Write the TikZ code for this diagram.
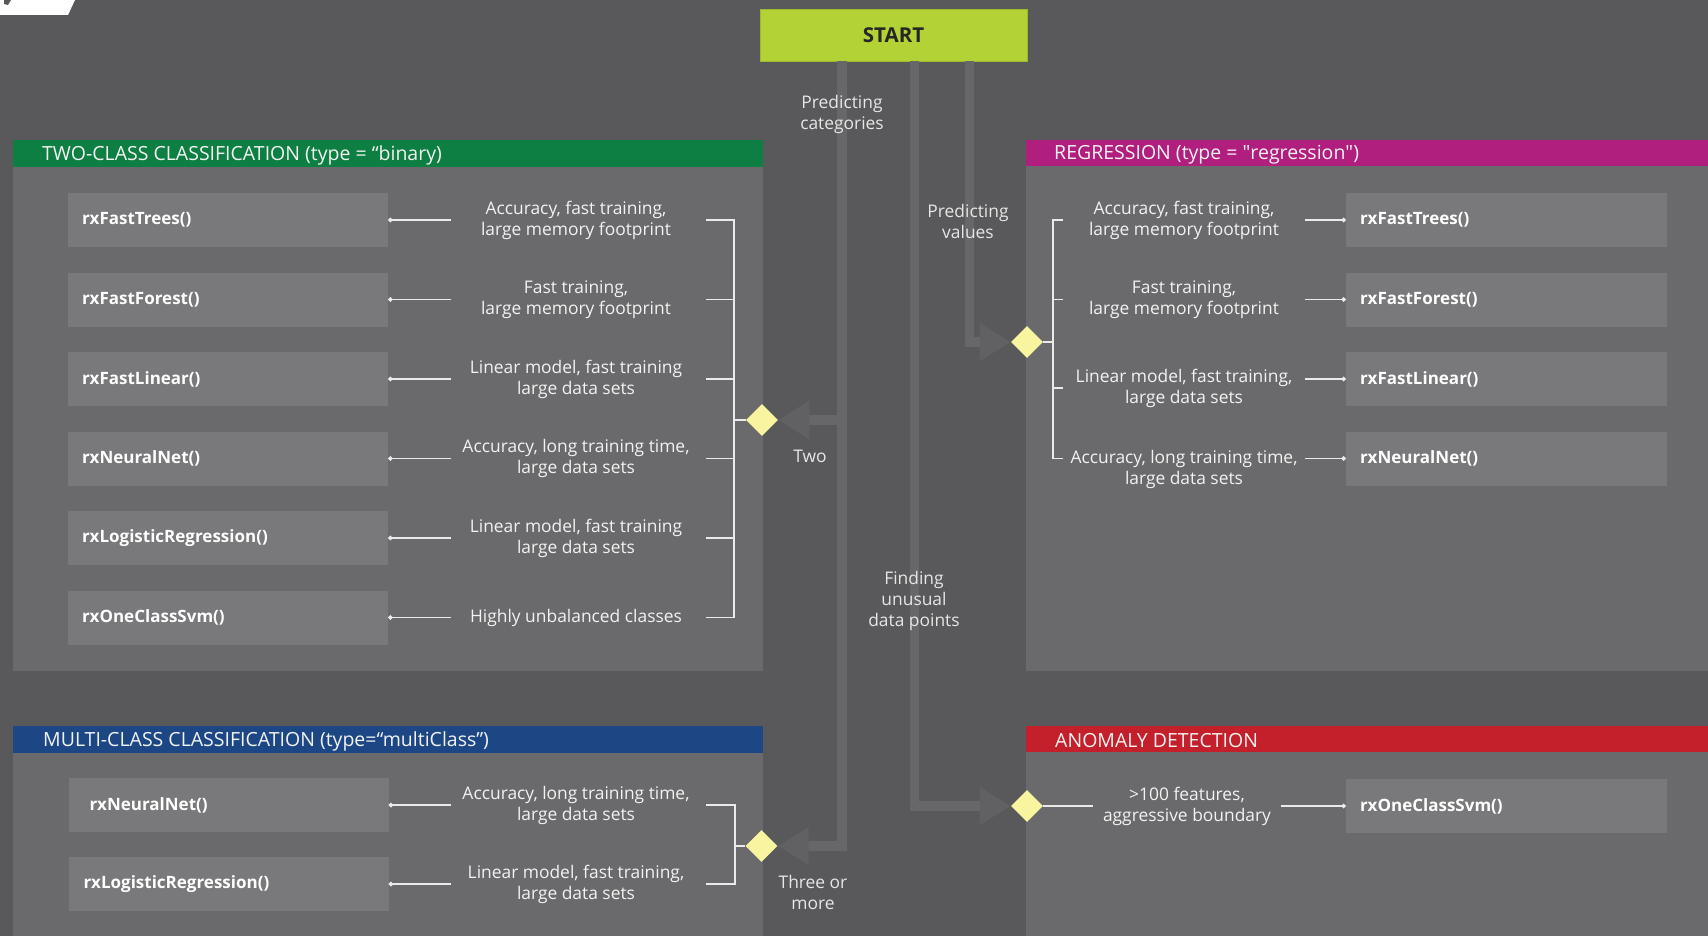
\documentclass[tikz,border=0pt]{standalone}
\usepackage{fontspec}
\setmainfont{Open Sans}
% same face without the TeX quote mapping, for straight quotes
\newfontfamily\plainq{Open Sans}
\usetikzlibrary{shapes.geometric,arrows.meta,calc}

\definecolor{bgc}{HTML}{59595B}
\definecolor{panelc}{HTML}{6A6A6C}
\definecolor{boxc}{HTML}{79797B}
\definecolor{pipec}{HTML}{676769}
\definecolor{arrowc}{HTML}{616163}
\definecolor{headgreen}{HTML}{0E7F43}
\definecolor{headmag}{HTML}{B11F7E}
\definecolor{headblue}{HTML}{1D4784}
\definecolor{headred}{HTML}{C4202B}
\definecolor{startc}{HTML}{B3D235}
\definecolor{startedge}{HTML}{9DBA2C}
\definecolor{diac}{HTML}{F8F4A0}
\definecolor{linec}{HTML}{EAEAEA}
\definecolor{txtc}{HTML}{F2F2F2}
\definecolor{lblc}{HTML}{E6E6E6}

\newcommand\dscfont{\fontsize{17.4}{21}\selectfont}
\newcommand\hdrfont{\fontsize{19.5}{23}\selectfont}
\newcommand\fnfont{\fontsize{17}{20}\selectfont\bfseries}
\newcommand\stfont{\fontsize{20.5}{24}\selectfont\bfseries}

\tikzset{
  hdr/.style={anchor=west, inner sep=0pt, font=\hdrfont, text=txtc},
  fnbox/.style={rectangle, fill=boxc, minimum height=54pt, text width=292pt,
    inner xsep=14pt, inner ysep=0pt, align=left, font=\fnfont, text=white},
  desc/.style={align=center, inner sep=0pt, font=\dscfont, text=txtc},
  lbl/.style={align=center, inner sep=0pt, font=\dscfont, text=lblc},
  conn/.style={draw=linec, line width=1.4pt, line join=miter},
  dotend/.style={-{Circle[length=4.5pt]}},
  dotstart/.style={{Circle[length=4.5pt]}-},
  choice/.style={diamond, fill=diac, minimum width=32pt, minimum height=32pt, inner sep=0pt},
  pipe/.style={draw=pipec, line width=9.5pt, line join=miter,
    -{Triangle[length=31pt, width=36pt, fill=arrowc, color=arrowc]}},
  startbox/.style={rectangle, fill=startc, draw=startedge, line width=0.8pt,
    minimum width=267pt, minimum height=52pt, font=\stfont, text=black!85}
}

\begin{document}
\begin{tikzpicture}[x=1pt,y=-1pt]
\useasboundingbox (0,0) rectangle (1708,936);
\fill[bgc] (0,0) rectangle (1708,936);

% tab in the upper left corner
\fill[white] (0,0) -- (75,0) -- (68,15) -- (0,15) -- cycle;
\fill[bgc] (4,0) -- (11,0) -- (8,5) -- (4,4) -- cycle;

% panels and their title bars
\fill[panelc] (13,167) rectangle (763,671);
\fill[headgreen] (13,140) rectangle (763,167);
\fill[panelc] (1026,166) rectangle (1708,671);
\fill[headmag] (1026,140) rectangle (1708,166);
\fill[panelc] (13,753) rectangle (763,936);
\fill[headblue] (13,726) rectangle (763,753);
\fill[panelc] (1026,752) rectangle (1708,936);
\fill[headred] (1026,726) rectangle (1708,752);

\node[hdr] (hTwo) at (42,155.5) {TWO-CLASS CLASSIFICATION (type = “binary)};
\node[hdr] (hReg) at (1054,155) {REGRESSION (type = {\plainq"}regression{\plainq"})};
\node[hdr] (hMul) at (43,741) {MULTI-CLASS CLASSIFICATION (type=“multiClass”)};
\node[hdr] (hAno) at (1055,740.5) {ANOMALY DETECTION};

% start
\node[startbox] (start) at (893.5,35) {START};

% decision points
\node[choice] (dTwo) at (762,420) {};
\node[choice] (dMul) at (761.5,846) {};
\node[choice] (dReg) at (1027,342) {};
\node[choice] (dAn)  at (1027,806) {};

% ---------- two-class ----------
\node[fnbox] (tb1) at (228,220)   {rxFastTrees()};
\node[fnbox] (tb2) at (228,299.5) {rxFastForest()};
\node[fnbox] (tb3) at (228,379)   {rxFastLinear()};
\node[fnbox] (tb4) at (228,458.5) {rxNeuralNet()};
\node[fnbox] (tb5) at (228,538)   {rxLogisticRegression()};
\node[fnbox] (tb6) at (228,617.5) {rxOneClassSvm()};

\node[desc, minimum width=250pt] (td1) at (576,220)   {Accuracy, fast training,\\large memory footprint};
\node[desc, minimum width=250pt] (td2) at (576,299.5) {Fast training,\\large memory footprint};
\node[desc, minimum width=250pt] (td3) at (576,379)   {Linear model, fast training\\large data sets};
\node[desc, minimum width=250pt] (td4) at (576,458.5) {Accuracy, long training time,\\large data sets};
\node[desc, minimum width=250pt] (td5) at (576,538)   {Linear model, fast training\\large data sets};
\node[desc, minimum width=250pt] (td6) at (576,617.5) {Highly unbalanced classes};

\foreach \i in {1,...,6}
  \draw[conn, dotstart] (tb\i.east) -- (td\i.west);
\coordinate (bxTwo) at (734,0);
\draw[conn] ([xshift=5pt]td1.east) -- (td1.east -| bxTwo) -- (td6.east -| bxTwo) -- ([xshift=5pt]td6.east);
\foreach \i in {2,...,5}
  \draw[conn] ([xshift=5pt]td\i.east) -- (td\i.east -| bxTwo);
\draw[conn] (dTwo.west) -- (dTwo.west -| bxTwo);

% ---------- multi-class ----------
\node[fnbox, inner xsep=21pt, text width=278pt] (mb1) at (228.5,805) {rxNeuralNet()};
\node[fnbox, inner xsep=15pt, text width=290pt] (mb2) at (228.5,884) {rxLogisticRegression()};
\node[desc, minimum width=250pt] (md1) at (576,805) {Accuracy, long training time,\\large data sets};
\node[desc, minimum width=250pt] (md2) at (576,884) {Linear model, fast training,\\large data sets};
\foreach \i in {1,2}
  \draw[conn, dotstart] (mb\i.east) -- (md\i.west);
\coordinate (bxMul) at (735,0);
\draw[conn] ([xshift=5pt]md1.east) -- (md1.east -| bxMul) -- (md2.east -| bxMul) -- ([xshift=5pt]md2.east);
\draw[conn] (dMul.west) -- (dMul.west -| bxMul);

% ---------- regression ----------
\node[fnbox, text width=293pt] (rb1) at (1506.5,220)   {rxFastTrees()};
\node[fnbox, text width=293pt] (rb2) at (1506.5,299.5) {rxFastForest()};
\node[fnbox, text width=293pt] (rb3) at (1506.5,379)   {rxFastLinear()};
\node[fnbox, text width=293pt] (rb4) at (1506.5,458.5) {rxNeuralNet()};
\node[desc, minimum width=242pt] (rd1) at (1184,220)   {Accuracy, fast training,\\large memory footprint};
\node[desc, minimum width=242pt] (rd2) at (1184,299.5) {Fast training,\\large memory footprint};
\node[desc, minimum width=242pt] (rd3) at (1184,388)   {Linear model, fast training,\\large data sets};
\node[desc, minimum width=242pt] (rd4) at (1184,469)   {Accuracy, long training time,\\large data sets};
\foreach \i in {1,...,4}
  \draw[conn, dotend] (rd\i.east |- rb\i) -- (rb\i.west);
\coordinate (bxReg) at (1053,0);
\draw[conn] (rd1.west) -- (rd1.west -| bxReg) -- (rb4.west -| bxReg) -- (rd4.west |- rb4);
\draw[conn] (rd2.west) -- (rd2.west -| bxReg);
\draw[conn] (rd3.west) -- (rd3.west -| bxReg);
\draw[conn] (dReg.east) -- (dReg.east -| bxReg);

% ---------- anomaly detection ----------
\node[fnbox, text width=293pt] (ab1) at (1506.5,806) {rxOneClassSvm()};
\node[desc, minimum width=187pt] (ad1) at (1187,806) {>100 features,\\aggressive boundary};
\draw[conn] (dAn.east) -- (ad1.west);
\draw[conn, dotend] (ad1.east) -- (ab1.west);

% ---------- routes from start ----------
\coordinate (px1) at (842,0);
\coordinate (px2) at (914.5,0);
\coordinate (px3) at (969.5,0);
\draw[pipe] (start.south -| px1) |- (dMul.east);
\draw[pipe] (start.south -| px1) |- (dTwo.east);
\draw[pipe] (start.south -| px2) |- (dAn.west);
\draw[pipe] (start.south -| px3) |- (dReg.west);

\node[lbl] (lCat) at (842,114.5) {Predicting\\categories};
\node[lbl] (lVal) at (968,221)   {Predicting\\values};
\node[lbl] (lTwo) at (810,456)   {Two};
\node[lbl] (lOdd) at (914,601)   {Finding\\unusual\\data points};
\node[lbl] (lThr) at (813,892)   {Three or\\more};
\end{tikzpicture}
\end{document}
